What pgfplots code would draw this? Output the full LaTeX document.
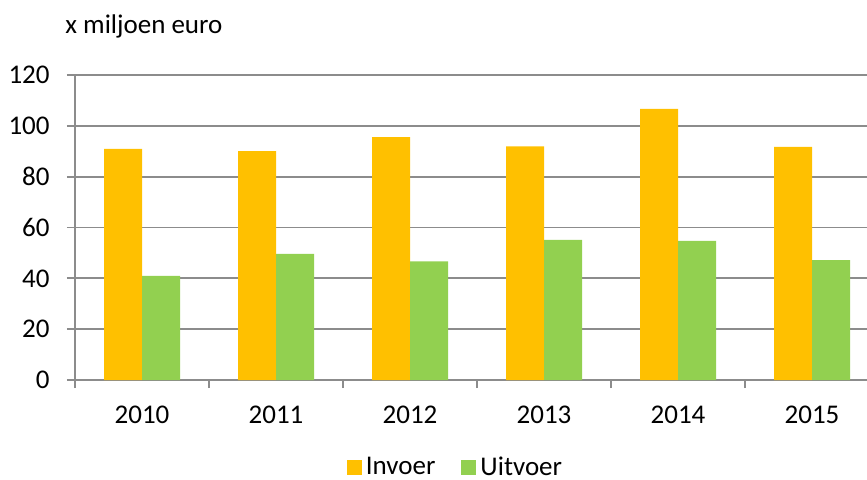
\documentclass[border=0pt]{standalone}
\usepackage{pgfplots}
\pgfplotsset{compat=1.18}
\usepackage{fontspec}
\setmainfont{Carlito}
\definecolor{invoer}{HTML}{FFC000}
\definecolor{uitvoer}{HTML}{92D050}
\definecolor{gridgray}{HTML}{8C8C8C}
\begin{document}
\fontsize{13.5}{16}\selectfont
\begin{tikzpicture}
\path[use as bounding box] (-37.5pt,-49.5pt) rectangle (396pt,190pt);
\begin{axis}[
  at={(0,0)}, anchor=south west,
  scale only axis,
  width=402pt, height=152.5pt,
  xmin=-0.5, xmax=5.5, ymin=0, ymax=120,
  ytick={0,20,...,120},
  xtick={0,...,5},
  xticklabels={2010,2011,2012,2013,2014,2015},
  minor xtick={-0.5,0.5,...,5.5},
  major x tick style={draw=none},
  tick align=outside,
  major tick length=4pt, minor tick length=4pt,
  tick style={gridgray, line width=0.9pt},
  axis x line*=bottom, axis y line*=left,
  axis line style={gridgray, line width=0.9pt},
  ymajorgrids, grid style={gridgray, line width=0.9pt},
  /pgf/number format/assume math mode=true,
  ticklabel style={font=\fontsize{13.5}{16}\selectfont},
  yticklabel style={inner sep=0pt, anchor=east, xshift=-8.5pt},
  xticklabel style={inner sep=0pt, anchor=north, yshift=-9pt},
  ybar=0pt, bar width=19pt,
  legend columns=2,
  legend style={draw=none, at={(0.4745,-0.288)}, anchor=center,
    font=\fontsize{13.5}{16}\selectfont,
    /tikz/every even column/.append style={column sep=11pt}},
  legend image code/.code={\fill[#1] (-1pt,-3.75pt) rectangle (6.5pt,3.75pt);},
]
\addplot[fill=invoer, draw=none] coordinates {(0,90.9) (1,90.1) (2,95.6) (3,91.9) (4,106.7) (5,91.7)};
\addplot[fill=uitvoer, draw=none] coordinates {(0,41.0) (1,49.6) (2,46.7) (3,55.1) (4,54.7) (5,47.2)};
\legend{Invoer, Uitvoer}
\end{axis}
\node[anchor=base west, inner sep=0pt] at (-5pt,173.5pt) {x miljoen euro};
\end{tikzpicture}
\end{document}
